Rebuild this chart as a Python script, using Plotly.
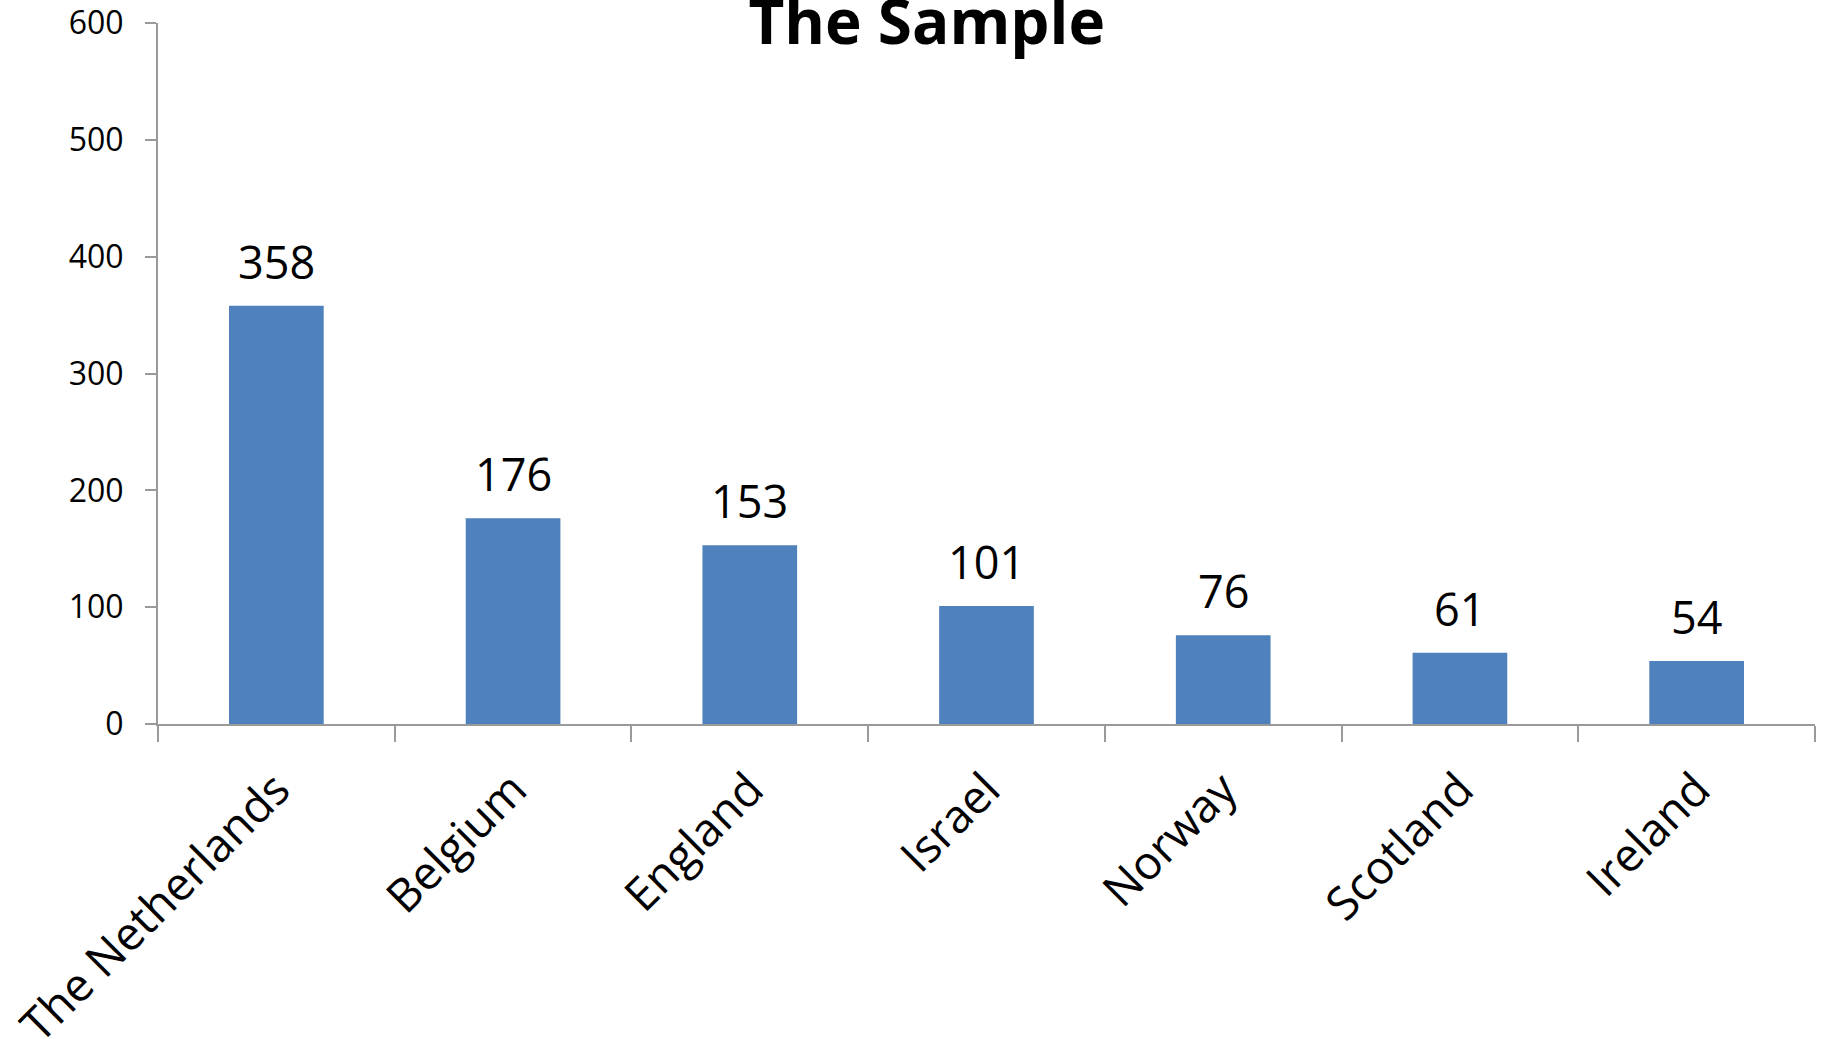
import plotly.graph_objects as go

# Sample size per country
countries = ["The Netherlands", "Belgium", "England", "Israel", "Norway", "Scotland", "Ireland"]
counts = [358, 176, 153, 101, 76, 61, 54]
y_ticks = [0, 100, 200, 300, 400, 500, 600]

BAR_COLOR = "#4F81BD"
AXIS_COLOR = "#9A9A9A"
FONT = "Open Sans"

fig = go.Figure(
    go.Bar(
        x=countries,
        y=counts,
        marker=dict(color=BAR_COLOR, line=dict(width=0)),
        hoverinfo="x+y",
    )
)

# Value labels above each bar
for c, v in zip(countries, counts):
    fig.add_annotation(
        x=c, y=v, text=str(v), showarrow=False,
        xref="x", yref="y", yanchor="bottom", yshift=12,
        font=dict(family=FONT, size=45, color="#000000"),
    )

fig.update_layout(
    width=1828,
    height=1039,
    margin=dict(l=158, r=13, t=23, b=315),
    paper_bgcolor="white",
    plot_bgcolor="white",
    bargap=0.6,
    showlegend=False,
    title=dict(
        text="<b>The Sample</b>",
        x=0.507, xref="container", xanchor="center",
        y=1 - 22 / 1039, yref="container", yanchor="middle",
        font=dict(family=FONT, size=62, color="#000000"),
    ),
    xaxis=dict(
        type="category",
        automargin=False,
        showline=True, linecolor=AXIS_COLOR, linewidth=2,
        ticks="outside", tickson="boundaries", ticklen=16,
        tickcolor=AXIS_COLOR, tickwidth=2,
        tickangle=-45,
        tickfont=dict(family=FONT, size=46, color="#000000"),
        ticklabelstandoff=18,
        showgrid=False, zeroline=False,
    ),
    yaxis=dict(
        range=[0, 600],
        automargin=False,
        tickvals=y_ticks,
        showline=True, linecolor=AXIS_COLOR, linewidth=2,
        ticks="outside", ticklen=11,
        tickcolor=AXIS_COLOR, tickwidth=2,
        tickfont=dict(family=FONT, size=32, color="#000000"),
        ticklabelstandoff=15,
        showgrid=False, zeroline=False,
    ),
)

fig.write_html("out.html")
